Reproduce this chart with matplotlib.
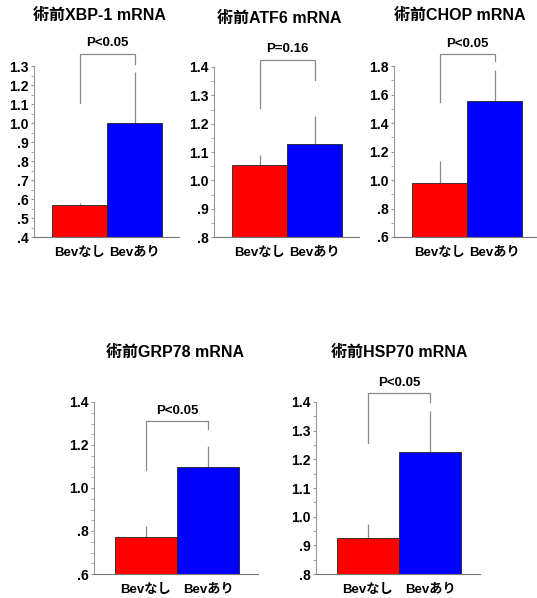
import matplotlib
matplotlib.use('Agg')
import matplotlib.pyplot as plt
from matplotlib.ticker import MultipleLocator, FuncFormatter

plt.rcParams['font.family'] = ['Liberation Sans', 'Noto Sans CJK JP']
plt.rcParams['font.weight'] = 'bold'

groups = ['Bevなし', 'Bevあり']
titles = ['術前XBP-1 mRNA', '術前ATF6 mRNA', '術前CHOP mRNA', '術前GRP78 mRNA', '術前HSP70 mRNA']
red_vals = [0.57, 1.055, 0.98, 0.77, 0.924]
blue_vals = [1.0, 1.127, 1.555, 1.10, 1.225]
red_err = [0.01, 0.033, 0.15, 0.054, 0.05]
blue_err = [0.27, 0.099, 0.22, 0.097, 0.145]
p_texts = ['P<0.05', 'P=0.16', 'P<0.05', 'P<0.05', 'P<0.05']
# bracket: top, left leg end, right leg end
bracket_top = [1.365, 1.426, 1.882, 1.312, 1.431]
bracket_left = [1.105, 1.256, 1.547, 1.086, 1.257]
bracket_right = [1.31, 1.353, 1.835, 1.276, 1.40]
y_lims = [(0.4, 1.3), (0.8, 1.4), (0.6, 1.8), (0.6, 1.4), (0.8, 1.4)]
major_steps = [0.1, 0.1, 0.2, 0.2, 0.1]
minor_steps = [0.05, 0.05, 0.1, 0.05, 0.05]

W, H = 537, 598
fig = plt.figure(figsize=(W / 100, H / 100), dpi=100)

# panel boxes in pixels: left, right, top, bottom ; title centre x, y
boxes = [(34, 179, 66, 237), (214, 359, 67, 237), (394, 539, 66, 237),
         (94, 258, 402, 574), (316, 480, 402, 574)]
title_pos = [(99, 15), (279, 18), (460, 15), (175, 352), (399, 352)]


def fmt(v, pos):
    s = f'{v:.1f}'
    if s.startswith('0'):
        s = s[1:]
    return s


for i in range(5):
    l, r, t, b = boxes[i]
    ax = fig.add_axes([l / W, 1 - b / H, (r - l) / W, (b - t) / H])
    ax.bar([0, 1], [red_vals[i], blue_vals[i]], width=1.0,
           color=['#ff0000', '#0000ff'], edgecolor='#222222', linewidth=0.6,
           bottom=0, zorder=2)
    ax.errorbar([0, 1], [red_vals[i], blue_vals[i]],
                yerr=[[0, 0], [red_err[i], blue_err[i]]], fmt='none',
                ecolor='#8a8a8a', elinewidth=0.9, capsize=0, zorder=1)
    ax.plot([0, 0, 1, 1], [bracket_left[i], bracket_top[i], bracket_top[i], bracket_right[i]],
            color='#8a8a8a', lw=0.9, clip_on=False)
    ax.annotate(p_texts[i], (0.5, bracket_top[i]), xytext=(0, 3), textcoords='offset points',
                ha='center', va='bottom', fontsize=9.5, fontweight='bold', annotation_clip=False)
    ax.set_xlim(-0.83, 1.8)
    ax.set_ylim(*y_lims[i])
    ax.yaxis.set_major_locator(MultipleLocator(major_steps[i]))
    ax.yaxis.set_minor_locator(MultipleLocator(minor_steps[i]))
    ax.yaxis.set_major_formatter(FuncFormatter(fmt))
    ax.set_xticks([0, 1])
    ax.set_xticklabels(groups)
    ax.tick_params(axis='x', length=0, pad=7, labelsize=9.5)
    ax.tick_params(axis='y', which='both', length=2, color='#999999', labelsize=10, pad=2)
    for s in ['top', 'right']:
        ax.spines[s].set_visible(False)
    ax.spines['left'].set_color('#999999')
    ax.spines['bottom'].set_color('#777777')
    ax.spines['left'].set_linewidth(0.8)
    ax.spines['bottom'].set_linewidth(0.8)
    tx, ty = title_pos[i]
    fig.text(tx / W, 1 - ty / H, titles[i], ha='center', va='center',
             fontsize=11.5, fontweight='bold')

fig.savefig('out.png', dpi=100)
